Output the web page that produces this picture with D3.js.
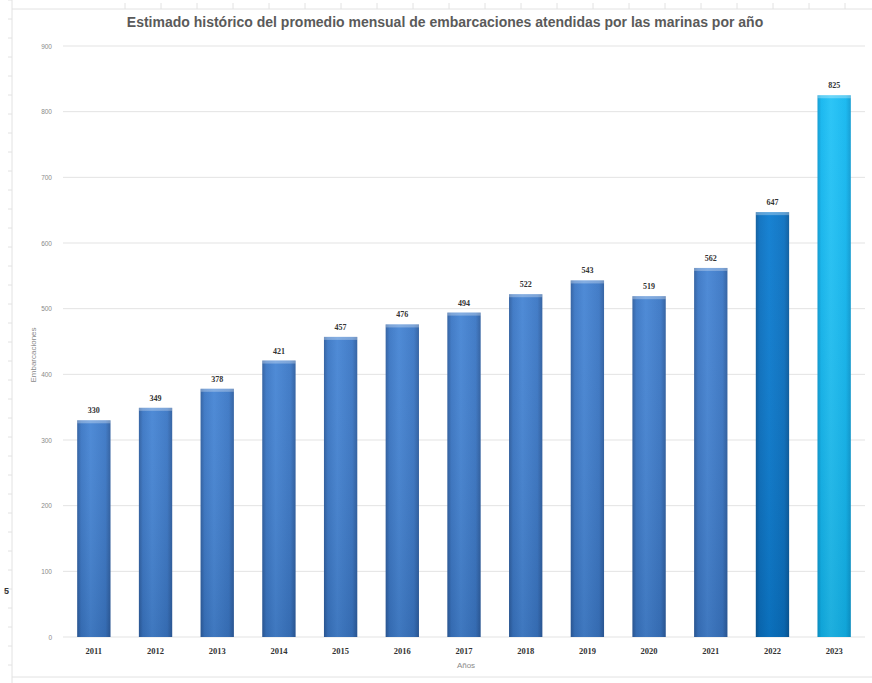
<!DOCTYPE html>
<html>
<head>
<meta charset="utf-8">
<script src="https://cdn.jsdelivr.net/npm/d3@7"></script>
<style>
  body { margin: 0; background: #fff; }
  svg { display: block; font-family: "Liberation Sans", Arial, sans-serif; }
</style>
</head>
<body>
<div class="chart"></div>
<script>
var years = ["2011","2012","2013","2014","2015","2016","2017","2018","2019","2020","2021","2022","2023"];
var values = [330, 349, 378, 421, 457, 476, 494, 522, 543, 519, 562, 647, 825];
var yTicks = [0, 100, 200, 300, 400, 500, 600, 700, 800, 900];

var W = 872, H = 683;
var margin = {top: 46, right: 7, bottom: 46, left: 63};
var width = W - margin.left - margin.right,
    height = H - margin.top - margin.bottom;

var svg = d3.select(".chart").append("svg")
    .attr("width", W)
    .attr("height", H);

// faint page rulers from the screenshot
var ruler = svg.append("g").attr("stroke", "#e2e2e2");
ruler.append("line").attr("x1", 12).attr("x2", 12).attr("y1", 0).attr("y2", H);
ruler.append("line").attr("x1", 12).attr("x2", W).attr("y1", 9).attr("y2", 9);
ruler.append("line").attr("x1", 12).attr("x2", W).attr("y1", 677).attr("y2", 677);
d3.range(0, H, 19).forEach(function(v){
  ruler.append("line").attr("x1", 8).attr("x2", 12).attr("y1", v).attr("y2", v);
});
d3.range(125, W, 36).forEach(function(v){
  ruler.append("line").attr("x1", v).attr("x2", v).attr("y1", 3).attr("y2", 9);
});
svg.append("text").attr("x", 4).attr("y", 594).attr("font-size", 9)
  .attr("font-weight", "bold").attr("fill", "#333").text("5");

var g = svg.append("g")
    .attr("transform", "translate(" + margin.left + "," + margin.top + ")");

var x = d3.scaleBand().domain(years).range([0, width]).paddingInner(0.46).paddingOuter(0.23);
var y = d3.scaleLinear().domain([0, 900]).range([height, 0]);

var defs = svg.append("defs");
function grad(id, light, mid, dark) {
  var lg = defs.append("linearGradient").attr("id", id)
    .attr("x1", 0).attr("x2", 1).attr("y1", 0).attr("y2", 0);
  lg.append("stop").attr("offset", "0%").attr("stop-color", dark);
  lg.append("stop").attr("offset", "12%").attr("stop-color", mid);
  lg.append("stop").attr("offset", "40%").attr("stop-color", light);
  lg.append("stop").attr("offset", "85%").attr("stop-color", mid);
  lg.append("stop").attr("offset", "100%").attr("stop-color", dark);
}
grad("gBlue", "#4685d4", "#3a76c4", "#2d5d9f");
grad("gDark", "#0c7cd0", "#0a70c0", "#0a5a9c");
grad("gCyan", "#22c2f6", "#12b6ef", "#0c9ad2");
var vshade = defs.append("linearGradient").attr("id", "vshade")
  .attr("x1", 0).attr("x2", 0).attr("y1", 0).attr("y2", 1);
vshade.append("stop").attr("offset", "0%").attr("stop-color", "#fff").attr("stop-opacity", 0.05);
vshade.append("stop").attr("offset", "100%").attr("stop-color", "#000").attr("stop-opacity", 0.1);

function fillFor(d) {
  if (d === "2023") return "url(#gCyan)";
  if (d === "2022") return "url(#gDark)";
  return "url(#gBlue)";
}

// grid
g.selectAll(".grid").data(yTicks).enter().append("line")
  .attr("x1", 0).attr("x2", width)
  .attr("y1", function(d){ return y(d); }).attr("y2", function(d){ return y(d); })
  .attr("stroke", "#e3e3e3").attr("stroke-width", 1);

var yAxis = g.append("g").call(d3.axisLeft(y).tickValues(yTicks).tickSize(0).tickPadding(11));
yAxis.select(".domain").remove();
yAxis.selectAll("text").attr("font-size", 6.5).attr("fill", "#8a8a8a")
  .attr("font-family", "Liberation Sans, Arial, sans-serif");

var xAxis = g.append("g").attr("transform", "translate(0," + height + ")")
  .call(d3.axisBottom(x).tickSize(0).tickPadding(11));
xAxis.select(".domain").remove();
xAxis.selectAll("text").attr("font-size", 8.5).attr("font-weight", "bold").attr("fill", "#333")
  .attr("font-family", "Liberation Serif, serif");

var bars = g.selectAll(".bar").data(years).enter().append("g");
bars.append("rect")
  .attr("x", function(d){ return x(d); })
  .attr("y", function(d, i){ return y(values[i]); })
  .attr("width", x.bandwidth())
  .attr("height", function(d, i){ return height - y(values[i]); })
  .attr("fill", fillFor);
bars.append("rect")
  .attr("x", function(d){ return x(d); })
  .attr("y", function(d, i){ return y(values[i]); })
  .attr("width", x.bandwidth())
  .attr("height", function(d, i){ return height - y(values[i]); })
  .attr("fill", "url(#vshade)");
bars.append("rect")
  .attr("x", function(d){ return x(d); })
  .attr("y", function(d, i){ return y(values[i]); })
  .attr("width", x.bandwidth())
  .attr("height", 3)
  .attr("fill", "#fff").attr("opacity", 0.3);

bars.append("text")
  .attr("x", function(d){ return x(d) + x.bandwidth() / 2; })
  .attr("y", function(d, i){ return y(values[i]) - 7; })
  .attr("text-anchor", "middle")
  .attr("font-size", 8).attr("font-weight", "bold").attr("fill", "#333")
  .attr("font-family", "Liberation Serif, serif")
  .text(function(d, i){ return values[i]; });

svg.append("text")
  .attr("x", 445).attr("y", 27)
  .attr("text-anchor", "middle")
  .attr("font-size", 14).attr("font-weight", "bold").attr("fill", "#5a5a5a")
  .text("Estimado histórico del promedio mensual de embarcaciones atendidas por las marinas por año");

svg.append("text")
  .attr("x", 466).attr("y", 668)
  .attr("text-anchor", "middle")
  .attr("font-size", 8).attr("fill", "#8a8a8a")
  .text("Años");

svg.append("text")
  .attr("transform", "translate(36,355) rotate(-90)")
  .attr("text-anchor", "middle")
  .attr("font-size", 8).attr("fill", "#8a8a8a")
  .text("Embarcaciones");
</script>
</body>
</html>
